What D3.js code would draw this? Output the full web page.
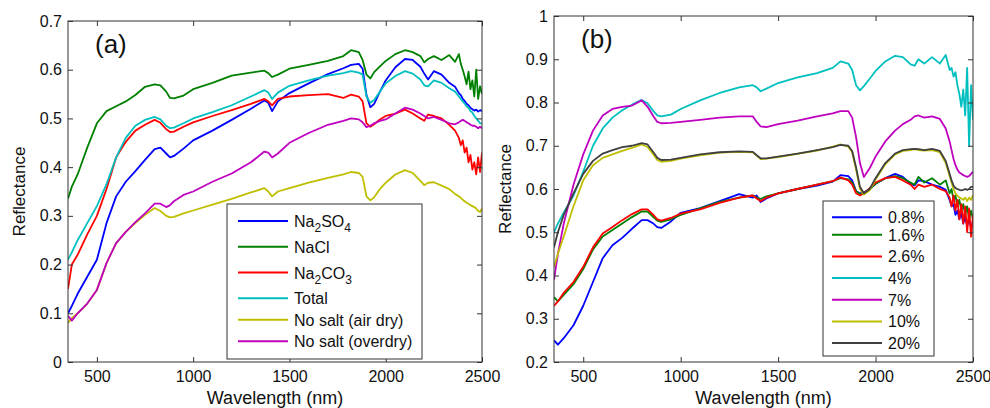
<!DOCTYPE html>
<html>
<head>
<meta charset="utf-8">
<style>
  body { margin: 0; background: #fff; }
  svg { display: block; font-family: "Liberation Sans", Arial, sans-serif; }
</style>
</head>
<body>
<div class="container"></div>
<script src="https://cdn.jsdelivr.net/npm/d3@7"></script>
<script>
// wavelength grid (nm), shared by both panels
var wavelengths = [350,370,400,450,500, 550,600,650,700,750, 800,830,860,880,900, 950,1000,1100,1200,1300,
  1370,1390,1410,1440,1500, 1600,1700,1780,1820,1860, 1880,1900,1920,1940,1970, 2000,2050,2100,2140,2180,
  2200,2220,2250,2290,2330, 2360,2380,2390,2400,2410, 2420,2430,2440,2450,2460, 2470,2480,2490,2500];

var xTicks = [500, 1000, 1500, 2000, 2500];
var yTicksA = [0, 0.1, 0.2, 0.3, 0.4, 0.5, 0.6, 0.7];
var yTicksB = [0.2, 0.3, 0.4, 0.5, 0.6, 0.7, 0.8, 0.9, 1];

// panel (a): salt types
var namesA = ['Na2SO4', 'NaCl', 'Na2CO3', 'Total', 'No salt (air dry)', 'No salt (overdry)'];
var na2so4 = [0.100,0.115,0.140,0.175,0.210, 0.285,0.340,0.370,0.392,0.415, 0.437,0.440,0.428,0.420,0.423,
  0.438,0.455,0.475,0.497,0.520, 0.537,0.532,0.515,0.535,0.552, 0.572,0.591,0.603,0.610,0.612,
  0.602,0.548,0.523,0.530,0.555, 0.578,0.605,0.622,0.620,0.606, 0.592,0.580,0.597,0.590,0.573,
  0.565,0.552,0.548,0.540,0.536, 0.530,0.527,0.522,0.519,0.516, 0.518,0.514,0.517,0.515];
var nacl = [0.335,0.360,0.385,0.440,0.490, 0.515,0.525,0.535,0.548,0.565, 0.570,0.568,0.555,0.542,0.541,
  0.547,0.560,0.573,0.588,0.594, 0.598,0.593,0.585,0.590,0.602, 0.610,0.618,0.628,0.640,0.636,
  0.620,0.590,0.582,0.595,0.607, 0.618,0.632,0.640,0.636,0.628, 0.615,0.622,0.628,0.620,0.630,
  0.616,0.632,0.612,0.600,0.586, 0.570,0.596,0.560,0.578,0.545, 0.600,0.540,0.566,0.550];
var na2co3 = [0.150,0.200,0.220,0.262,0.300, 0.355,0.420,0.452,0.475,0.487, 0.497,0.491,0.478,0.472,0.473,
  0.483,0.492,0.505,0.517,0.530, 0.540,0.535,0.527,0.540,0.545, 0.548,0.550,0.542,0.549,0.545,
  0.535,0.490,0.483,0.488,0.498, 0.505,0.510,0.518,0.510,0.500, 0.495,0.508,0.505,0.500,0.487,
  0.475,0.460,0.445,0.455,0.430, 0.440,0.410,0.425,0.395,0.410, 0.385,0.420,0.390,0.430];
var total = [0.210,0.225,0.250,0.285,0.320, 0.365,0.420,0.460,0.485,0.497, 0.503,0.498,0.485,0.480,0.481,
  0.490,0.500,0.513,0.527,0.545, 0.558,0.553,0.540,0.553,0.567, 0.578,0.588,0.593,0.597,0.594,
  0.590,0.545,0.532,0.538,0.555, 0.572,0.587,0.597,0.592,0.580, 0.568,0.566,0.578,0.573,0.562,
  0.555,0.545,0.540,0.535,0.530, 0.525,0.522,0.515,0.512,0.505, 0.500,0.495,0.490,0.490];
var airDry = [0.080,0.090,0.100,0.120,0.148, 0.203,0.244,0.267,0.285,0.302, 0.316,0.310,0.300,0.297,0.298,
  0.305,0.311,0.323,0.335,0.348, 0.357,0.350,0.340,0.350,0.357, 0.368,0.378,0.385,0.390,0.388,
  0.380,0.340,0.332,0.338,0.355, 0.368,0.385,0.394,0.388,0.372, 0.363,0.368,0.369,0.362,0.355,
  0.345,0.340,0.337,0.333,0.330, 0.327,0.325,0.322,0.320,0.318, 0.315,0.310,0.308,0.315];
var overDry = [0.095,0.085,0.100,0.120,0.148, 0.203,0.244,0.267,0.287,0.305, 0.325,0.325,0.318,0.322,0.330,
  0.343,0.350,0.370,0.387,0.410, 0.432,0.430,0.420,0.428,0.450, 0.470,0.487,0.495,0.500,0.498,
  0.492,0.482,0.485,0.490,0.495, 0.498,0.510,0.522,0.518,0.510, 0.505,0.500,0.503,0.497,0.490,
  0.488,0.492,0.495,0.497,0.495, 0.492,0.490,0.487,0.485,0.485, 0.483,0.480,0.483,0.480];

// panel (b): salt content
var namesB = ['0.8%', '1.6%', '2.6%', '4%', '7%', '10%', '20%'];
var s08 = [0.250,0.240,0.255,0.285,0.330, 0.385,0.440,0.470,0.487,0.508, 0.528,0.528,0.520,0.512,0.510,
  0.525,0.545,0.556,0.572,0.588, 0.580,0.585,0.570,0.578,0.590, 0.600,0.608,0.617,0.632,0.630,
  0.620,0.595,0.590,0.592,0.600, 0.612,0.625,0.635,0.628,0.612, 0.608,0.620,0.618,0.610,0.605,
  0.598,0.575,0.560,0.565,0.540, 0.550,0.530,0.545,0.520,0.535, 0.515,0.530,0.510,0.525];
var s16 = [0.350,0.340,0.355,0.380,0.415, 0.460,0.490,0.505,0.520,0.535, 0.548,0.548,0.535,0.527,0.524,
  0.530,0.540,0.555,0.570,0.580, 0.585,0.580,0.577,0.583,0.590, 0.600,0.610,0.618,0.625,0.622,
  0.615,0.595,0.588,0.590,0.600, 0.612,0.625,0.630,0.625,0.615, 0.610,0.628,0.615,0.625,0.610,
  0.620,0.590,0.600,0.575,0.585, 0.560,0.575,0.550,0.565,0.540, 0.560,0.530,0.550,0.530];
var s26 = [0.330,0.340,0.360,0.385,0.420, 0.465,0.497,0.512,0.528,0.542, 0.553,0.553,0.540,0.530,0.527,
  0.533,0.543,0.553,0.568,0.580, 0.585,0.578,0.572,0.580,0.590, 0.600,0.610,0.618,0.627,0.620,
  0.610,0.590,0.585,0.590,0.602, 0.615,0.625,0.628,0.620,0.610, 0.600,0.610,0.605,0.610,0.600,
  0.595,0.580,0.560,0.585,0.550, 0.575,0.530,0.565,0.520,0.560, 0.500,0.555,0.490,0.540];
var s4 = [0.500,0.520,0.545,0.585,0.640, 0.700,0.740,0.765,0.782,0.795, 0.806,0.798,0.780,0.770,0.768,
  0.772,0.785,0.805,0.822,0.835, 0.840,0.835,0.826,0.832,0.845, 0.858,0.868,0.880,0.895,0.890,
  0.875,0.840,0.828,0.838,0.855, 0.873,0.895,0.908,0.905,0.888, 0.885,0.900,0.890,0.905,0.890,
  0.910,0.875,0.880,0.860,0.870, 0.840,0.820,0.790,0.830,0.770, 0.880,0.700,0.840,0.760];
var s7 = [0.390,0.450,0.520,0.610,0.680, 0.735,0.770,0.785,0.790,0.793, 0.805,0.790,0.768,0.755,0.752,
  0.753,0.755,0.760,0.765,0.768, 0.768,0.755,0.745,0.743,0.750, 0.758,0.768,0.775,0.780,0.780,
  0.765,0.720,0.660,0.628,0.648, 0.675,0.710,0.735,0.750,0.760, 0.768,0.770,0.765,0.768,0.762,
  0.740,0.710,0.690,0.670,0.655, 0.645,0.638,0.635,0.632,0.630, 0.628,0.630,0.635,0.640];
var s10 = [0.420,0.450,0.490,0.560,0.620, 0.655,0.672,0.680,0.688,0.695, 0.703,0.697,0.680,0.667,0.663,
  0.665,0.670,0.678,0.684,0.686, 0.685,0.677,0.669,0.670,0.674, 0.681,0.689,0.698,0.703,0.698,
  0.685,0.645,0.600,0.587,0.597, 0.622,0.657,0.680,0.688,0.690, 0.692,0.690,0.689,0.690,0.685,
  0.660,0.630,0.615,0.600,0.590, 0.585,0.580,0.578,0.575,0.580, 0.572,0.580,0.575,0.585];
var s20 = [0.465,0.500,0.540,0.590,0.635, 0.665,0.682,0.690,0.697,0.700, 0.706,0.703,0.685,0.672,0.667,
  0.668,0.672,0.680,0.685,0.687, 0.686,0.678,0.671,0.671,0.675, 0.682,0.690,0.697,0.702,0.700,
  0.688,0.650,0.605,0.590,0.600, 0.625,0.660,0.682,0.690,0.692, 0.693,0.692,0.690,0.693,0.688,
  0.665,0.635,0.620,0.608,0.602, 0.600,0.598,0.597,0.598,0.600, 0.598,0.600,0.605,0.605];

var colorsA = ['#0000ff', '#008000', '#ff0000', '#00bfbf', '#bfbf00', '#bf00bf'];
var colorsB = ['#0000ff', '#008000', '#ff0000', '#00bfbf', '#bf00bf', '#bfbf00', '#404040'];

var svg = d3.select('.container')
            .append('svg')
            .attr('width', 990)
            .attr('height', 408);

var panels = [
  { id: 'a', label: '(a)', left: 68, right: 482, top: 21, bottom: 362,
    yDomain: [0, 0.7], yTicks: yTicksA, names: namesA, colors: colorsA,
    values: [na2so4, nacl, na2co3, total, airDry, overDry],
    legend: { x: 227, y: 204, w: 195, h: 155, rowH: 21.5, subH: 30, pad: 2, lineX: 11, lineW: 50, textX: 67 } },
  { id: 'b', label: '(b)', left: 554, right: 973, top: 16, bottom: 362,
    yDomain: [0.2, 1], yTicks: yTicksB, names: namesB, colors: colorsB,
    values: [s08, s16, s26, s4, s7, s10, s20],
    legend: { x: 823, y: 201, w: 111, h: 155, rowH: 21.67, subH: 21.67, pad: 1.2, lineX: 9, lineW: 50, textX: 65 } }
];

function styleAxis(g) {
  g.attr('font-size', null).attr('font-family', null);
  g.select('.domain').remove();
  g.selectAll('.tick line').attr('stroke', '#333');
  g.selectAll('.tick text').attr('font-size', 16).attr('fill', '#111');
}

function fmt(d) { return String(+d.toFixed(1)); }

function addLabel(sel, name) {
  // chemical formulas get subscripted digits
  var m = name.match(/^Na(\d)(SO|CO)(\d)$/);
  if (m) {
    sel.append('tspan').text('Na');
    sel.append('tspan').attr('font-size', 12).attr('dy', 5).text(m[1]);
    sel.append('tspan').attr('dy', -5).text(m[2]);
    sel.append('tspan').attr('font-size', 12).attr('dy', 5).text(m[3]);
  } else {
    sel.text(name);
  }
}

function drawPanel(p) {
  var g = svg.append('g');
  var x = d3.scaleLinear().domain([350, 2500]).range([p.left, p.right]);
  var y = d3.scaleLinear().domain(p.yDomain).range([p.bottom, p.top]);

  g.append('clipPath').attr('id', 'clip-' + p.id)
   .append('rect')
   .attr('x', p.left).attr('y', p.top)
   .attr('width', p.right - p.left).attr('height', p.bottom - p.top);

  var line = d3.line()
               .x(function(d, i) { return x(wavelengths[i]); })
               .y(function(d) { return y(d); });

  var lines = g.append('g').attr('clip-path', 'url(#clip-' + p.id + ')');
  p.values.forEach(function(v, i) {
    lines.append('path')
         .attr('d', line(v))
         .attr('fill', 'none')
         .attr('stroke', p.colors[i])
         .attr('stroke-width', 1.8)
         .attr('stroke-linejoin', 'round');
  });

  // axes on all four sides, ticks pointing inward
  g.append('g').attr('transform', 'translate(0,' + p.bottom + ')')
   .call(d3.axisBottom(x).tickValues(xTicks).tickFormat(d3.format('d'))
           .tickSizeInner(-5).tickSizeOuter(0).tickPadding(9))
   .call(styleAxis);
  g.append('g').attr('transform', 'translate(0,' + p.top + ')')
   .call(d3.axisTop(x).tickValues(xTicks).tickSizeInner(-5).tickSizeOuter(0).tickFormat(''))
   .call(styleAxis);
  g.append('g').attr('transform', 'translate(' + p.left + ',0)')
   .call(d3.axisLeft(y).tickValues(p.yTicks).tickSizeInner(-5).tickSizeOuter(0).tickPadding(6).tickFormat(fmt))
   .call(styleAxis);
  g.append('g').attr('transform', 'translate(' + p.right + ',0)')
   .call(d3.axisRight(y).tickValues(p.yTicks).tickSizeInner(-5).tickSizeOuter(0).tickFormat(''))
   .call(styleAxis);

  g.append('rect')
   .attr('x', p.left).attr('y', p.top)
   .attr('width', p.right - p.left).attr('height', p.bottom - p.top)
   .attr('fill', 'none').attr('stroke', '#333').attr('stroke-width', 1);

  g.append('text')
   .attr('x', x(350) + 27).attr('y', p.top + 32)
   .attr('font-size', 26).attr('fill', '#111')
   .text(p.label);

  g.append('text')
   .attr('x', (p.left + p.right) / 2).attr('y', 404)
   .attr('text-anchor', 'middle').attr('font-size', 18).attr('fill', '#111')
   .text('Wavelength (nm)');

  g.append('text')
   .attr('transform', 'translate(' + (p.left - 43) + ',' + ((p.top + p.bottom) / 2) + ') rotate(-90)')
   .attr('text-anchor', 'middle').attr('font-size', 17).attr('fill', '#111')
   .text('Reflectance');

  // legend
  var L = p.legend;
  var lg = g.append('g').attr('transform', 'translate(' + L.x + ',' + L.y + ')');
  lg.append('rect').attr('width', L.w).attr('height', L.h)
    .attr('fill', '#fff').attr('stroke', '#333').attr('stroke-width', 1);
  var cy = L.pad;
  p.names.forEach(function(name, i) {
    var h = /\d$/.test(name) && name.indexOf('Na') === 0 ? L.subH : L.rowH;
    var yy = cy + h / 2;
    if (i === 0) yy = L.pad + 15;
    lg.append('line')
      .attr('x1', L.lineX).attr('x2', L.lineX + L.lineW)
      .attr('y1', yy).attr('y2', yy)
      .attr('stroke', p.colors[i]).attr('stroke-width', 2);
    var t = lg.append('text')
      .attr('x', L.textX).attr('y', yy + 6)
      .attr('font-size', 16).attr('fill', '#111');
    addLabel(t, name);
    cy += h;
  });
}

panels.forEach(drawPanel);
</script>
</body>
</html>
